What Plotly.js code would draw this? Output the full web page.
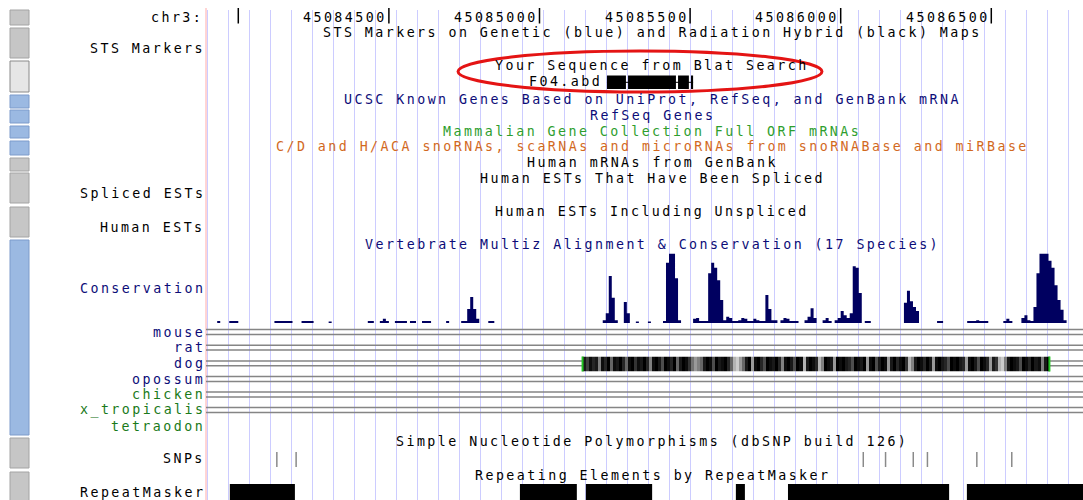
<!DOCTYPE html>
<html><head><meta charset="utf-8">
<script src="https://cdn.plot.ly/plotly-3.0.1.min.js"></script>
<style>
html,body{margin:0;padding:0;background:#fff;}
#chart{width:1083px;height:500px;}
.annotation-text{letter-spacing:2.45px;}
</style></head><body><div id="chart"></div>
<script>
// ---------------- DATA ----------------
const chrom = 'chr3:';
const tickPositions = [45084000, 45084500, 45085000, 45085500, 45086000, 45086500];
const tickLabels = ['', '45084500', '45085000', '45085500', '45086000', '45086500'];

const blatName = 'F04.abd';
const blatStarts = [45085224, 45085294, 45085460, 45085503];
const blatEnds   = [45085287, 45085453, 45085496, 45085510];

// phastCons conservation, fixedStep wiggle
const consStart = 45083890;
const consStep = 10;
const consScores = [
  0,0,0,0,0.03,0,0,0,0.03,0.03,
  0.03,0,0,0,0,0,0,0,0,0,
  0,0,0,0.03,0.03,0.03,0.03,0.03,0.03,0,
  0,0,0.03,0.03,0.03,0.03,0,0,0,0,
  0,0.02,0,0,0,0,0,0,0,0,
  0,0,0,0,0.03,0.03,0,0,0.03,0.06,
  0.03,0,0,0.03,0.03,0.03,0.03,0,0.03,0.03,
  0,0,0.03,0.03,0.03,0,0,0,0,0,
  0.03,0,0,0,0,0.03,0.03,0.2,0.37,0.2,
  0.06,0,0,0,0.03,0.03,0,0,0,0,
  0,0,0,0,0,0,0,0,0,0,
  0,0,0,0,0,0,0,0,0,0,
  0,0,0,0,0,0,0,0,0,0,
  0,0,0.04,0.14,0.67,0.36,0.04,0,0,0.3,
  0.14,0,0,0.02,0,0,0,0.02,0,0,
  0,0,0.03,0.86,0.99,0.99,0.64,0.04,0,0,
  0,0,0.06,0.07,0.03,0.03,0.03,0.71,0.86,0.79,
  0.61,0.33,0.04,0.09,0.07,0.03,0.03,0.04,0.07,0.06,
  0.03,0.03,0.06,0.04,0.03,0.03,0.4,0.2,0.04,0.04,
  0,0.04,0.07,0.06,0.03,0.03,0.03,0,0,0.04,
  0.09,0.21,0.07,0,0,0.04,0.07,0.03,0,0.04,
  0.07,0.17,0.11,0.07,0.14,0.81,0.79,0.43,0,0.03,
  0.03,0,0,0,0,0,0,0,0,0,
  0,0,0.29,0.46,0.31,0.23,0.17,0,0,0,
  0,0,0,0.03,0.03,0,0,0,0,0,
  0,0,0,0.03,0.03,0.03,0.04,0.03,0.03,0.03,
  0,0,0,0,0,0.03,0.06,0.03,0,0,
  0,0.07,0.11,0.04,0.03,0.23,0.71,0.99,0.99,0.99,
  0.89,0.79,0.54,0.33,0.19,0.04,0,0,0,0,
  0
];

const species = ['mouse','rat','dog','opossum','chicken','x_tropicalis','tetraodon'];
const speciesHasGapLines = [true,true,true,true,true,true,false];

// dog alignment shading (fixedStep)
const dogStart = 45085143;
const dogStep = 10;
const dogShade = [
  0.9,0.75,0.95,0.85,0.9,0.5,0.95,0.85,1,0.6,
  0.95,0.9,1,0.85,0.6,0.95,1,0.8,0.95,0.9,
  1,0.85,0.5,0.95,1,0.9,0.7,1,0.95,0.85,
  1,0.6,0.9,1,0.95,0.8,0.55,0.4,0.5,0.6,
  0.9,1,0.95,0.7,1,0.9,0.95,1,0.85,0.6,
  0.3,0.2,0.4,0.6,0.9,1,0.4,0.95,1,0.85,
  0.7,1,0.95,0.9,1,0.85,0.5,0.95,1,0.9,
  0.7,1,0.95,0.3,0.9,1,0.95,0.85,0.3,0.5,
  1,0.95,0.9,0.4,1,0.95,1,0.9,0.85,0.7,
  1,0.95,0.9,1,0.4,0.95,1,0.7,0.9,1,
  0.95,0.4,0.9,1,0.85,0.95,1,0.8,0.3,0.5,
  0.9,1,0.95,0.85,1,0.9,0.4,0.95,1,0.9,
  0.85,0.7,1,0.95,1,0.9,0.85,0.4,0.95,1,
  0.9,0.7,1,0.95,0.85,0.4,0.9,0.8,0.3,0.2,
  0.5,0.9,1,0.95,0.9,0.7,1,0.95,0.85,1,
  0.9,0.95,0.5,0.9,1
];

const snpPositions = [45084128, 45084192, 45086075, 45086149, 45086241, 45086288, 45086452, 45086568];

const repeatStarts = [45083972, 45084935, 45085154, 45085652, 45085825, 45086419];
const repeatEnds   = [45084188, 45085124, 45085374, 45085682, 45086360, 45086805];

const trackTitles = [
  'STS Markers on Genetic (blue) and Radiation Hybrid (black) Maps',
  'Your Sequence from Blat Search',
  'UCSC Known Genes Based on UniProt, RefSeq, and GenBank mRNA',
  'RefSeq Genes',
  'Mammalian Gene Collection Full ORF mRNAs',
  'C/D and H/ACA snoRNAs, scaRNAs and microRNAs from snoRNABase and miRBase',
  'Human mRNAs from GenBank',
  'Human ESTs That Have Been Spliced',
  'Human ESTs Including Unspliced',
  'Vertebrate Multiz Alignment &amp; Conservation (17 Species)',
  'Simple Nucleotide Polymorphisms (dbSNP build 126)',
  'Repeating Elements by RepeatMasker'
];
const sideLabels = ['STS Markers','Spliced ESTs','Human ESTs','Conservation','SNPs','RepeatMasker'];

// ---------------- LAYOUT / STYLE ----------------
const W = 1083, H = 500;
const X0 = 45083892.8, X1 = 45086804.5;
const fx = p => p / W;
const fy = p => 1 - p / H;
const FONT = 'DejaVu Sans Mono, Liberation Mono, monospace';
const FS = 13.3;
const NAVY = '#0c0c78', GREEN = '#2e9e2e', DKGREEN = '#1a7a1a', ORANGE = '#d2691e', BLACK = '#000000';

const titleY = [32, 65, 99.5, 115, 131, 146.5, 161.7, 178.3, 211, 244.5, 441.5, 475];
const titleColor = [BLACK, BLACK, NAVY, NAVY, GREEN, ORANGE, BLACK, BLACK, BLACK, NAVY, BLACK, BLACK];
const sideY = [48.3, 193.5, 227, 288.5, 458.3, 491.7];
const sideColor = [BLACK, BLACK, BLACK, NAVY, BLACK, BLACK];
const speciesY = [332, 347.6, 363.3, 379, 394.5, 410, 425.7];
const speciesColor = [NAVY, NAVY, NAVY, NAVY, DKGREEN, DKGREEN, DKGREEN];

const annotations = [];
function txt(text, x, xref, ypx, color, xanchor, xshift) {
  annotations.push({
    text: text, x: x, xref: xref, y: fy(ypx + 0.3), yref: 'paper',
    xanchor: xanchor, yanchor: 'middle', showarrow: false,
    borderpad: 0, borderwidth: 0,
    xshift: xshift || 0,
    font: {family: FONT, size: FS, color: color}
  });
}
txt(chrom, fx(203), 'paper', 17, BLACK, 'right');
tickLabels.forEach((t, i) => { if (t) txt(t, tickPositions[i], 'x', 17, BLACK, 'right', -1.5); });
trackTitles.forEach((t, i) => txt(t, fx(652.2), 'paper', titleY[i], titleColor[i], 'center'));
sideLabels.forEach((t, i) => txt(t, fx(204.5), 'paper', sideY[i], sideColor[i], 'right'));
species.forEach((t, i) => txt(t, fx(204.5), 'paper', speciesY[i], speciesColor[i], 'right'));
txt(blatName, fx(601.5), 'paper', 81.5, BLACK, 'right');

const shapes = [];
// side buttons
const buttons = [
  [10,25,'g'],[28,58,'g'],[61,92,'p'],[95,108,'b'],[110,123,'b'],[126,138,'b'],[141,155,'b'],
  [158,171,'g'],[173,203,'g'],[207,237,'g'],[240,435,'b'],[438,468,'g'],[472,501,'g']
];
const btnStyle = {g: ['#c6c6c6', '#a4a4a4'], p: ['#e6e6e6', '#8a8a8a'], b: ['#9bb9e2', '#7c9bcb']};
buttons.forEach(b => {
  shapes.push({type: 'rect', xref: 'paper', yref: 'paper', x0: fx(10), x1: fx(29), y0: fy(b[1]), y1: fy(b[0]),
    fillcolor: btnStyle[b[2]][0], line: {color: btnStyle[b[2]][1], width: 1}});
});
// red left guide line
shapes.push({type: 'line', xref: 'paper', yref: 'paper', x0: fx(206), x1: fx(206), y0: fy(8), y1: 0,
  line: {color: '#ffaaaa', width: 1}});
// tick bars
tickPositions.forEach(t => shapes.push({type: 'line', xref: 'x', yref: 'paper', x0: t, x1: t, y0: fy(8), y1: fy(23.5),
  line: {color: '#000', width: 1.5}}));
// blat hit
shapes.push({type: 'line', xref: 'x', yref: 'paper', x0: blatStarts[0], x1: blatEnds[blatEnds.length - 1],
  y0: fy(82.3), y1: fy(82.3), line: {color: '#000', width: 1}});
blatStarts.forEach((s, i) => shapes.push({type: 'rect', xref: 'x', yref: 'paper', x0: s, x1: blatEnds[i],
  y0: fy(89), y1: fy(75.5), fillcolor: '#000', line: {width: 0}}));
// red ellipse
shapes.push({type: 'circle', xref: 'paper', yref: 'paper', x0: fx(458), x1: fx(822), y0: fy(92), y1: fy(51),
  line: {color: '#e41414', width: 3}});
// species gap lines
const dogEnd = dogStart + dogShade.length * dogStep;
species.forEach((sp, i) => {
  if (!speciesHasGapLines[i]) return;
  [-2.4, 2.4].forEach(d => {
    const segs = sp === 'dog' ? [[X0, dogStart], [dogEnd, X1]] : [[X0, X1]];
    segs.forEach(s => shapes.push({type: 'line', xref: 'x', yref: 'paper', x0: s[0], x1: s[1],
      y0: fy(speciesY[i] + d), y1: fy(speciesY[i] + d), line: {color: '#858585', width: 1.5}}));
  });
});
// dog brackets
[dogStart, dogEnd].forEach(p => shapes.push({type: 'line', xref: 'x', yref: 'paper', x0: p, x1: p,
  y0: fy(371.5), y1: fy(356.5), line: {color: '#22c322', width: 2}}));
// SNP ticks
snpPositions.forEach(p => shapes.push({type: 'line', xref: 'x', yref: 'paper', x0: p, x1: p,
  y0: fy(467), y1: fy(452), line: {color: '#8a8a8a', width: 1.5}}));
// RepeatMasker
repeatStarts.forEach((s, i) => shapes.push({type: 'rect', xref: 'x', yref: 'paper', x0: s, x1: repeatEnds[i],
  y0: 0, y1: fy(484), fillcolor: '#000', line: {width: 0}}));

// ---------------- TRACES ----------------
const consX = consScores.map((_, i) => consStart + i * consStep);
consX.push(consStart + consScores.length * consStep);
const consY = consScores.concat([0]);

const dogX = dogShade.map((_, i) => dogStart + i * dogStep);
dogX.push(dogEnd);

const traces = [
  {type: 'scatter', x: [tickPositions[0]], y: [0], mode: 'markers', marker: {opacity: 0}, hoverinfo: 'skip', xaxis: 'x', yaxis: 'y'},
  {type: 'scatter', x: consX, y: consY, mode: 'lines', line: {shape: 'hv', width: 0, color: '#000060'},
   fill: 'tozeroy', fillcolor: '#000060', hoverinfo: 'skip', xaxis: 'x2', yaxis: 'y2'},
  {type: 'heatmap', x: dogX, y: [0, 1], z: [dogShade], zmin: 0, zmax: 1, zsmooth: false,
   colorscale: [[0, '#ffffff'], [1, '#000000']], showscale: false, hoverinfo: 'skip', xaxis: 'x3', yaxis: 'y3'}
];

const hidden = {visible: false, fixedrange: true};
const layout = {
  width: W, height: H, margin: {l: 0, r: 0, t: 0, b: 0},
  paper_bgcolor: '#ffffff', plot_bgcolor: 'rgba(0,0,0,0)', showlegend: false,
  xaxis: {domain: [206 / W, 1], range: [X0, X1], showgrid: true, gridcolor: '#ccccff', gridwidth: 1,
    tickmode: 'linear', tick0: 45083969, dtick: 69.72, showticklabels: false, ticks: '',
    zeroline: false, showline: false, anchor: 'y', fixedrange: true},
  yaxis: Object.assign({domain: [0, 0.98], range: [0, 1], anchor: 'x'}, hidden),
  xaxis2: Object.assign({domain: [206 / W, 1], range: [X0, X1], anchor: 'y2'}, hidden),
  yaxis2: Object.assign({domain: [fy(323), fy(253)], range: [0, 1], anchor: 'x2'}, hidden),
  xaxis3: Object.assign({domain: [206 / W, 1], range: [X0, X1], anchor: 'y3'}, hidden),
  yaxis3: Object.assign({domain: [fy(371.5), fy(356.5)], range: [0, 1], anchor: 'x3'}, hidden),
  shapes: shapes,
  annotations: annotations
};
Plotly.newPlot('chart', traces, layout, {staticPlot: true, displayModeBar: false});
</script></body></html>
